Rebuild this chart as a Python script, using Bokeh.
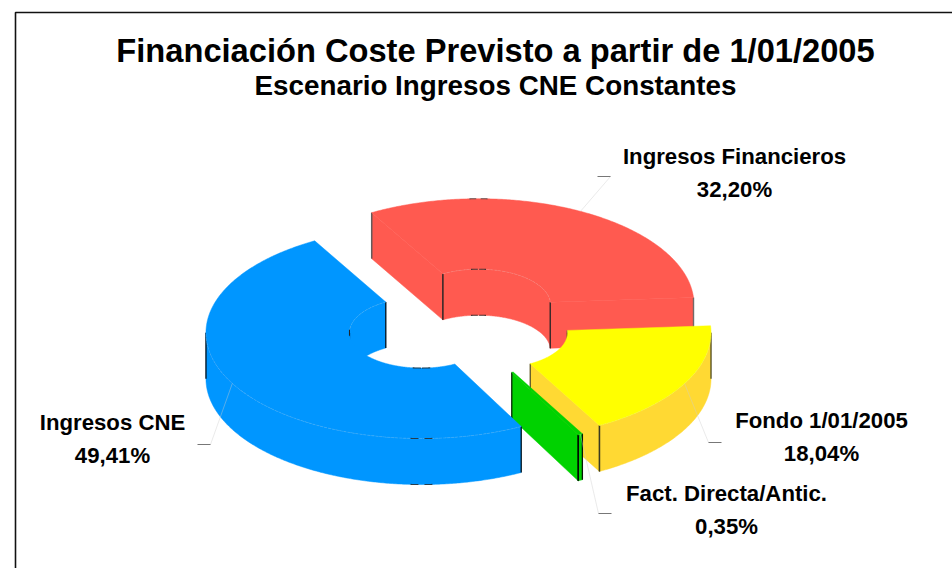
import numpy as np
from bokeh.plotting import figure
from bokeh.models import Range1d
from bokeh.core.properties import value
from bokeh.embed import file_html
from bokeh.resources import INLINE

# ---- data
CATEGORIES = ["Ingresos Financieros", "Fondo 1/01/2005", "Fact. Directa/Antic.", "Ingresos CNE"]
SHARES = [32.20, 18.04, 0.35, 49.41]
SHARE_LABELS = ["32,20%", "18,04%", "0,35%", "49,41%"]
TOP_COLORS = ["#FF5A50", "#FFFF00", "#00D200", "#0096FF"]
SIDE_COLORS = ["#FF5A50", "#FFD933", "#00D200", "#0096FF"]
EDGE_COLORS = ["#3a2a2a", "#3a3a20", "#000000", "#000000"]

# ---- layout (screen pixels of the photographed window)
W, H = 952, 568
START = 330.3
CX, CY = 458.0, 322.3
RX_OUT, RX_IN, SQUASH = 215.5, 72.0, 0.491
DEPTH, EXPLODE = 46.0, 42.2
LEADER_END = [(610, 176, 597), (708, 442, 721), (598, 513, 611), (210, 444, 197)]
LABEL_POS = [(734, 156, 189), (821, 420, 453), (726, 493, 526), (112, 422, 455)]
FONT = value("Liberation Sans")

p = figure(width=W, height=H, output_backend="svg", toolbar_location=None,
           x_range=Range1d(0, W), y_range=Range1d(H, 0),
           min_border=0, outline_line_color=None, background_fill_color="white",
           border_fill_color="white")
p.axis.visible = False
p.grid.visible = False
p.xaxis.visible = False
p.yaxis.visible = False

# frame, only its left and top edges fall inside the window
p.line([15, 15, W], [H, 12, 12], line_color="#111111", line_width=1.6)


def pt(c, r, a, dz=0.0):
    t = np.radians(a)
    return c[0] + r * np.sin(t), c[1] - r * SQUASH * np.cos(t) + dz


def arc(c, r, a0, a1, dz=0.0):
    n = max(2, int(abs(a1 - a0) * 2) + 2)
    return pt(c, r, np.linspace(a0, a1, n), dz)


def visible(a0, a1, lo, hi):
    out = []
    for k in (-360, 0, 360, 720):
        s, e = max(a0, lo + k), min(a1, hi + k)
        if e > s:
            out.append((s, e))
    return out


def wall(c, r, s, e, col):
    x0, y0 = arc(c, r, s, e)
    x1, y1 = arc(c, r, s, e, DEPTH)
    p.patch(np.r_[x0, x1[::-1]], np.r_[y0, y1[::-1]], fill_color=col, line_color=col, line_width=0.5)


def vedge(c, r, a, col, w=1.3, alpha=0.9):
    x, y = pt(c, r, a)
    p.line([x, x], [y, y + DEPTH], line_color=col, line_width=w, line_alpha=alpha)


def dashes(c, r, a, dz, col, half=2.4, gap=0.6):
    # small dark marks where an ellipse reaches its extreme
    for s, e in ((a - half, a - gap), (a + gap, a + half)):
        x, y = arc(c, r, s, e, dz)
        p.line(x, y, line_color=col, line_width=1.1, line_alpha=0.8)


angles = START + np.r_[0, np.cumsum(SHARES)] * 3.6
for i in range(4):
    a0, a1 = angles[i], angles[i + 1]
    mid = (a0 + a1) / 2
    t = np.radians(mid)
    c = (CX + EXPLODE * np.sin(t), CY - EXPLODE * SQUASH * np.cos(t))
    top, side, edge = TOP_COLORS[i], SIDE_COLORS[i], EDGE_COLORS[i]

    # cut faces that look at the viewer
    for a, vis in ((a0, np.sin(np.radians(a0)) < 0), (a1, np.sin(np.radians(a1)) > 0)):
        if vis:
            xo, yo = pt(c, RX_OUT, a)
            xi, yi = pt(c, RX_IN, a)
            p.patch([xo, xi, xi, xo], [yo, yi, yi + DEPTH, yo + DEPTH],
                    fill_color=side, line_color=side, line_width=0.5)

    # inner and outer walls
    inner_spans = visible(a0, a1, 270, 450)
    outer_spans = visible(a0, a1, 90, 270)
    for s, e in inner_spans:
        wall(c, RX_IN, s, e, side)
    for s, e in outer_spans:
        wall(c, RX_OUT, s, e, side)

    # vertical edges
    for s, e in inner_spans:
        for a in (s, e):
            if abs(np.sin(np.radians(a))) > 0.3:
                vedge(c, RX_IN, a, edge)
    for s, e in outer_spans:
        for a in (s, e):
            vedge(c, RX_OUT, a, edge)
    if np.sin(np.radians(a0)) < 0:
        vedge(c, RX_OUT, a0, "#555555", 1.5)
        vedge(c, RX_IN, a0, edge, 1.3)
    if np.sin(np.radians(a1)) > 0:
        vedge(c, RX_OUT, a1, "#666666" if i == 0 else edge, 1.4)
        vedge(c, RX_IN, a1, edge, 1.2)

    # top face
    xo, yo = arc(c, RX_OUT, a0, a1)
    xi, yi = arc(c, RX_IN, a1, a0)
    p.patch(np.r_[xo, xi], np.r_[yo, yi], fill_color=top, line_color=top, line_width=0.5)

    # faint seam between top face and walls
    for s, e in outer_spans:
        x, y = arc(c, RX_OUT, s, e)
        p.line(x, y, line_color="#DDDDDD", line_width=0.5, line_alpha=0.4, line_dash="3 1")
    for s, e in inner_spans:
        x, y = arc(c, RX_IN, s, e)
        p.line(x, y, line_color="#DDDDDD", line_width=0.5, line_alpha=0.4, line_dash="3 1")

    # extreme marks
    if i == 0:
        dashes(c, RX_OUT, 360, 0, "#444444")
        dashes(c, RX_IN, 360, 0, "#222222", 6, 0.5)
        dashes(c, RX_IN, 360, DEPTH, "#222222", 6, 0.5)
    if i == 3:
        dashes(c, RX_OUT, 180, 0, "#222222", 2.9, 0.8)
        dashes(c, RX_OUT, 180, DEPTH, "#222222", 2.9, 0.8)
        dashes(c, RX_IN, 180, 0, "#222222", 7, 0.5)
        x, y = pt(c, RX_IN, 270)
        p.line([x, x], [y - 3, y + 3], line_color="#222222", line_width=1)

# leaders and labels
for i in range(4):
    a0, a1 = angles[i], angles[i + 1]
    mid = (a0 + a1) / 2
    t = np.radians(mid)
    c = (CX + EXPLODE * np.sin(t), CY - EXPLODE * SQUASH * np.cos(t))
    ax, ay = pt(c, RX_OUT, mid)
    ex, ey, tx = LEADER_END[i]
    p.line([ax, ex], [ay, ey], line_color="#CCCCCC", line_width=0.6, line_alpha=0.7)
    p.line([ex, tx], [ey, ey], line_color="#777777", line_width=1)
    lx, ly1, ly2 = LABEL_POS[i]
    p.text([lx], [ly1], text=[CATEGORIES[i]], text_font=FONT, text_font_style="bold",
           text_font_size="22.2px", text_align="center", text_baseline="middle", text_color="black")
    p.text([lx], [ly2], text=[SHARE_LABELS[i]], text_font=FONT, text_font_style="bold",
           text_font_size="22.2px", text_align="center", text_baseline="middle", text_color="black")

p.text([495], [50], text=["Financiación Coste Previsto a partir de 1/01/2005"], text_font=FONT,
       text_font_style="bold", text_font_size="32.65px", text_align="center", text_baseline="middle",
       text_color="black")
p.text([495], [85], text=["Escenario Ingresos CNE Constantes"], text_font=FONT,
       text_font_style="bold", text_font_size="27.8px", text_align="center", text_baseline="middle",
       text_color="black")

open("out.html", "w").write(file_html(p, INLINE))
